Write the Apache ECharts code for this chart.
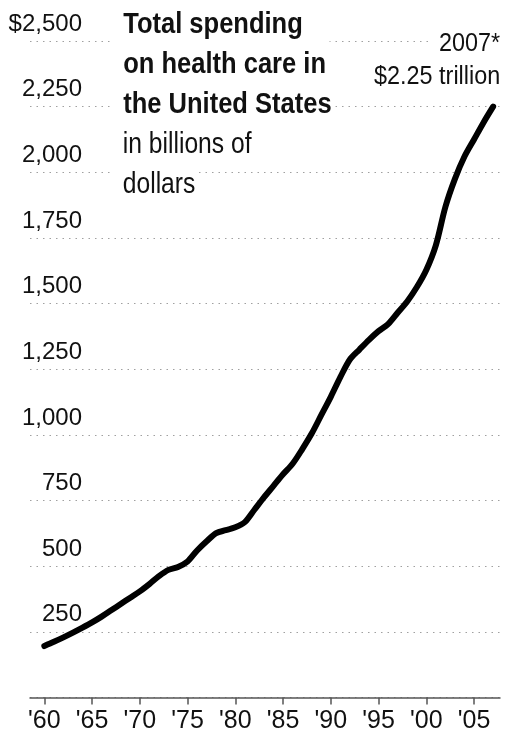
<!DOCTYPE html>
<html>
<head>
<meta charset="utf-8">
<script src="https://cdn.jsdelivr.net/npm/echarts@6/dist/echarts.min.js"></script>
<style>
  html, body { margin: 0; padding: 0; background: #fff; }
  #chart { width: 510px; height: 738px; }
</style>
</head>
<body>
<div id="chart"></div>
<script>
// Total U.S. health care spending, billions of dollars, 1960-2007
const years = [
  1960, 1961, 1962, 1963, 1964, 1965, 1966, 1967, 1968, 1969,
  1970, 1971, 1972, 1973, 1974, 1975, 1976, 1977, 1978, 1979,
  1980, 1981, 1982, 1983, 1984, 1985, 1986, 1987, 1988, 1989,
  1990, 1991, 1992, 1993, 1994, 1995, 1996, 1997, 1998, 1999,
  2000, 2001, 2002, 2003, 2004, 2005, 2006, 2007
];
const spending = [
  196, 212, 229, 247, 266, 286, 308, 332, 356, 380,
  404, 432, 462, 486, 497, 518, 560, 595, 626, 637,
  648, 668, 715, 762, 806, 850, 890, 945, 1005, 1075,
  1145, 1220, 1287, 1325, 1362, 1395, 1422, 1465, 1508, 1562,
  1628, 1722, 1868, 1975, 2060, 2125, 2190, 2250
];

// Axis ticks and labels
const xTickYears = [1960, 1965, 1970, 1975, 1980, 1985, 1990, 1995, 2000, 2005];
const xTickLabels = ["'60", "'65", "'70", "'75", "'80", "'85", "'90", "'95", "'00", "'05"];
const yTicks = [0, 250, 500, 750, 1000, 1250, 1500, 1750, 2000, 2250, 2500];
const yTickLabels = ['', '250', '500', '750', '1,000', '1,250', '1,500', '1,750', '2,000', '2,250', '$2,500'];

// Headline and end-point note
const titleBold = ['Total spending', 'on health care in', 'the United States'];
const titleLight = ['in billions of', 'dollars'];
const endNote = ['2007*', '$2.25 trillion'];

const FONT = "'Liberation Sans', Arial, sans-serif";

const chart = echarts.init(document.getElementById('chart'), null, { renderer: 'canvas' });

// Headline lines: narrowed sans, each on a white box that interrupts the grid dots
const titleGraphics = [];
const titleLines = titleBold.map(t => ({ text: t, weight: 'bold', sx: 0.88 }))
  .concat(titleLight.map(t => ({ text: t, weight: 'normal', sx: 0.85 })));
titleLines.forEach((ln, i) => {
  titleGraphics.push({
    type: 'text',
    x: 110,
    y: 25 + i * 40,
    scaleX: ln.sx,
    z: 100,
    style: {
      text: ln.text,
      font: ln.weight + ' 29px ' + FONT,
      fill: '#111',
      align: 'left',
      verticalAlign: 'middle',
      backgroundColor: '#fff',
      padding: [9, 4, 14, 15]
    }
  });
});
endNote.forEach((t, i) => {
  titleGraphics.push({
    type: 'text',
    x: 502,
    y: 44 + i * 33,
    scaleX: 0.9,
    z: 100,
    style: {
      text: t,
      font: 'normal 26px ' + FONT,
      fill: '#111',
      align: 'right',
      verticalAlign: 'middle',
      backgroundColor: '#fff',
      padding: [2, 2, 2, 12]
    }
  });
});

chart.setOption({
  backgroundColor: '#fff',
  animation: false,
  grid: { left: 30, right: 10, top: 41, bottom: 40.5, containLabel: false },
  xAxis: {
    type: 'value',
    min: 1958.5,
    max: 2007.72,
    axisLine: { show: true, lineStyle: { color: '#555', width: 1.5 } },
    axisTick: {
      show: true,
      customValues: xTickYears,
      length: 7,
      lineStyle: { color: '#555', width: 1.5 }
    },
    axisLabel: {
      customValues: xTickYears,
      formatter: v => xTickLabels[xTickYears.indexOf(v)] || '',
      margin: 11,
      color: '#111',
      fontFamily: FONT,
      fontSize: 25
    },
    splitLine: { show: false }
  },
  yAxis: {
    type: 'value',
    min: 0,
    max: 2500,
    interval: 250,
    axisLine: { show: false },
    axisTick: { show: false },
    axisLabel: {
      inside: true,
      margin: 52,
      align: 'right',
      verticalAlign: 'bottom',
      padding: [0, 0, 5, 0],
      color: '#111',
      fontFamily: FONT,
      fontSize: 24,
      formatter: v => yTickLabels[yTicks.indexOf(v)] || ''
    },
    splitLine: {
      show: true,
      lineStyle: { color: '#a0a0a0', width: 1, type: [1.5, 5] }
    }
  },
  graphic: titleGraphics,
  series: [{
    type: 'line',
    data: years.map((y, i) => [y, spending[i]]),
    smooth: 0.3,
    showSymbol: false,
    lineStyle: { color: '#000', width: 6, cap: 'round', join: 'round' },
    z: 5
  }]
});
</script>
</body>
</html>
